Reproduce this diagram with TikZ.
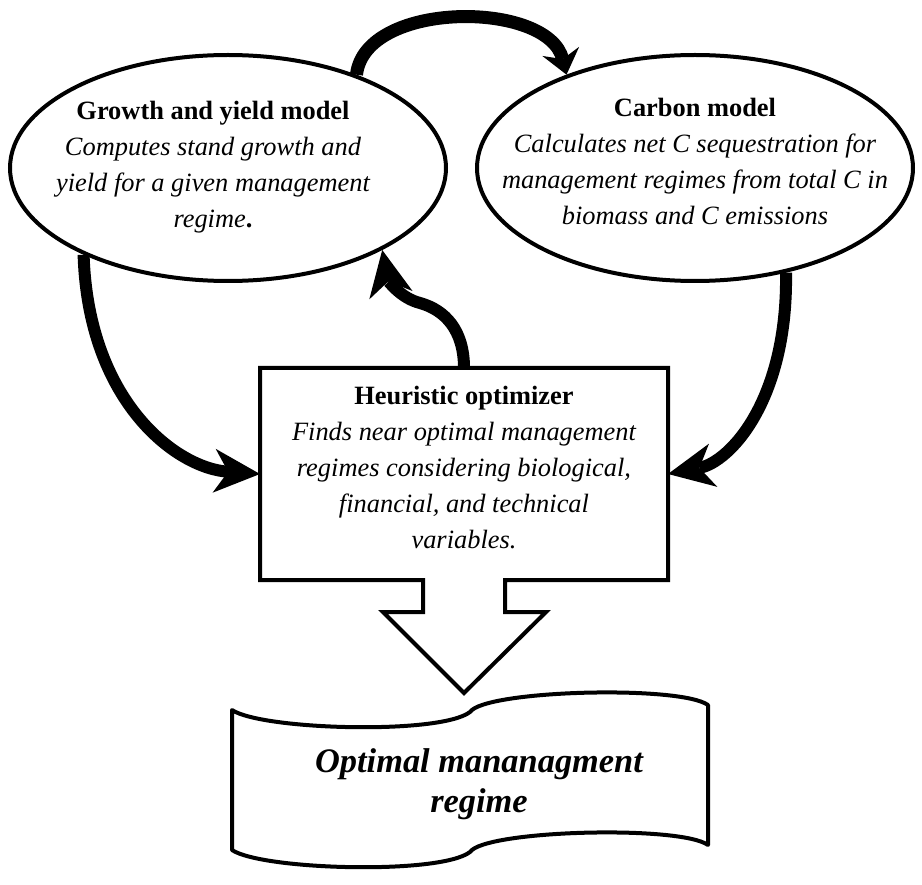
\documentclass[tikz,border=0pt]{standalone}
\usepackage{fontspec}
\setmainfont{Liberation Serif}
\usetikzlibrary{arrows.meta,shapes.geometric}
\begin{document}
\begin{tikzpicture}[x=1pt,y=-1pt,
  model/.style={draw, ellipse, line width=4pt, fill=white, minimum width=436pt, minimum height=226pt, inner sep=0pt},
  txt/.style={align=center, font=\fontsize{26.4}{36}\selectfont\itshape, inner sep=0pt},
  flow/.style={line width=12pt, -{Stealth[length=46pt,width=44pt,inset=14pt,line width=0pt]}},
  outline/.style={draw, line width=4pt, line join=miter}
]
\useasboundingbox (0,0) rectangle (922,885);

% models
\node[model] (gy) at (228,168) {};
\node[model] (cb) at (695,168) {};
\node[txt] (gytext) at (213,167) {\textbf{\textup{Growth and yield model}}\\Computes stand growth and\\yield for a given management\\regime\textbf{\textup{.}}};
\node[txt] (cbtext) at (695,161) {\textbf{\textup{Carbon model}}\\Calculates net C sequestration for\\management regimes from total C in\\biomass and C emissions};

% optimizer box with hollow down arrow
\node[minimum width=408pt, minimum height=212pt, inner sep=0pt, outer sep=0pt] (opt) at (464,474) {};
\draw[outline] (260,368) -- (668,368) -- (668,580) -- (505,580) -- (505,612) -- (546,612) -- (464,693) -- (383,612) -- (423,612) -- (423,580) -- (260,580) -- cycle;
\node[txt] (opttext) at (464,468) {\textbf{\textup{Heuristic optimizer}}\\Finds near optimal management\\regimes considering biological,\\financial, and technical\\variables.};

% result document
\draw[outline, line join=round] (232,710) .. controls (262,730) and (440,735) .. (470,712) .. controls (485,690) and (680,685) .. (708,705)
  -- (708,845) .. controls (680,825) and (485,830) .. (470,852) .. controls (440,875) and (262,870) .. (232,850) -- cycle;
\node[align=center, inner sep=0pt, font=\fontsize{34.4}{40}\selectfont\bfseries\itshape] (res) at (479,784) {Optimal mananagment\\regime};

% connectors
\draw[line width=13pt, -{Stealth[length=24pt,width=38pt,inset=8pt,line width=0pt]}] (gy.36) .. controls (365,0) and (548,0) .. (cb.144);
\draw[flow] (gy.211) .. controls (88,400) and (175,468) .. (opt.west);
\draw[flow] (cb.311) .. controls (788,400) and (730,462) .. (opt.east);
\draw[flow] (opt.north) .. controls (464,330) and (445,310) .. (420,303) .. controls (400,298) and (388,280) .. (gy.332);
\end{tikzpicture}
\end{document}
